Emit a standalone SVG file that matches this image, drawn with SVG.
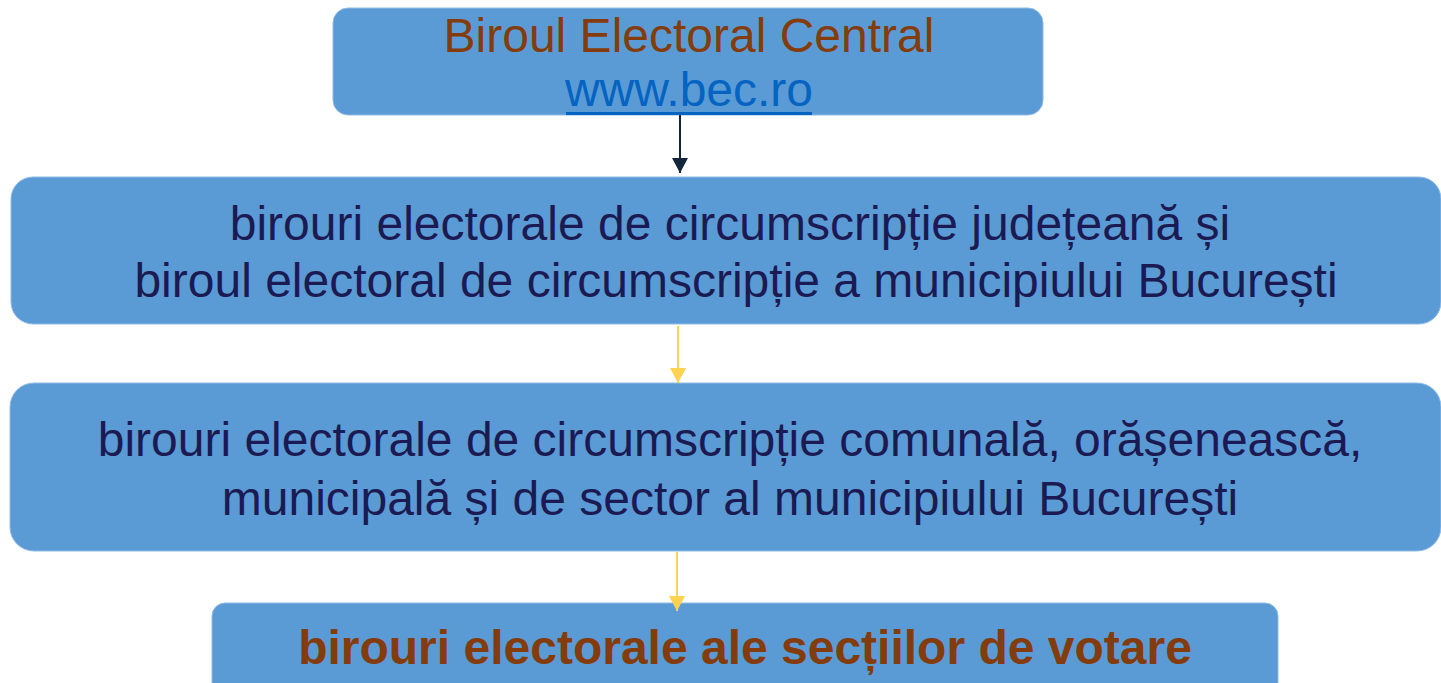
<svg xmlns="http://www.w3.org/2000/svg" width="1441" height="683" viewBox="0 0 1441 683">
  <style>
    .box { fill: #5b9bd5; stroke: #8fbbe6; stroke-width: 1; }
    .t { font-family: "Liberation Sans", Arial, sans-serif; font-size: 48px; text-anchor: middle; }
    .navy { fill: #1c1a52; }
    .brown { fill: #843c0c; }
    .bold { font-weight: bold; }
    .link { fill: #0563c1; }
    .conn { fill: none; stroke-width: 2; }
  </style>
  <defs>
    <marker id="ahDark" markerWidth="16" markerHeight="16" refX="8" refY="15" orient="0" markerUnits="userSpaceOnUse" viewBox="0 0 16 16">
      <path d="M0,0 L16,0 L8,15 Z" fill="#13253b"/>
    </marker>
    <marker id="ahYellow" markerWidth="16" markerHeight="16" refX="8" refY="15" orient="0" markerUnits="userSpaceOnUse" viewBox="0 0 16 16">
      <path d="M0,0 L16,0 L8,15 Z" fill="#ffd24f"/>
    </marker>
  </defs>

  <rect width="1441" height="683" fill="#ffffff"/>

  <g id="node-bec">
    <rect class="box" x="333" y="8" width="710" height="107" rx="15" ry="15"/>
    <text class="t brown" x="689" y="52" font-size="47">Biroul Electoral Central</text>
    <text class="t link" x="689" y="106" font-size="47">www.bec.ro</text>
    <rect x="566" y="112" width="246" height="3" fill="#0563c1"/>
  </g>

  <g id="node-judet">
    <rect class="box" x="11" y="177" width="1430" height="147" rx="22" ry="22"/>
    <text class="t navy" x="730" y="240">birouri electorale de circumscripție județeană și</text>
    <text class="t navy" x="736" y="297">biroul electoral de circumscripție a municipiului București</text>
  </g>

  <g id="node-comunal">
    <rect class="box" x="10" y="383" width="1431" height="168" rx="24" ry="24"/>
    <text class="t navy" x="730" y="456">birouri electorale de circumscripție comunală, orășenească,</text>
    <text class="t navy" x="730" y="515">municipală și de sector al municipiului București</text>
  </g>

  <g id="node-sectii">
    <rect class="box" x="212" y="603" width="1066" height="95" rx="13" ry="13"/>
    <text class="t brown bold" x="745" y="664">birouri electorale ale secțiilor de votare</text>
  </g>

  <g id="connectors">
    <line class="conn" x1="680" y1="115" x2="680" y2="173" stroke="#13253b" marker-end="url(#ahDark)"/>
    <line class="conn" x1="678" y1="326" x2="678" y2="383" stroke="#ffd24f" marker-end="url(#ahYellow)"/>
    <line class="conn" x1="677" y1="552" x2="677" y2="611" stroke="#ffd24f" marker-end="url(#ahYellow)"/>
  </g>
</svg>
